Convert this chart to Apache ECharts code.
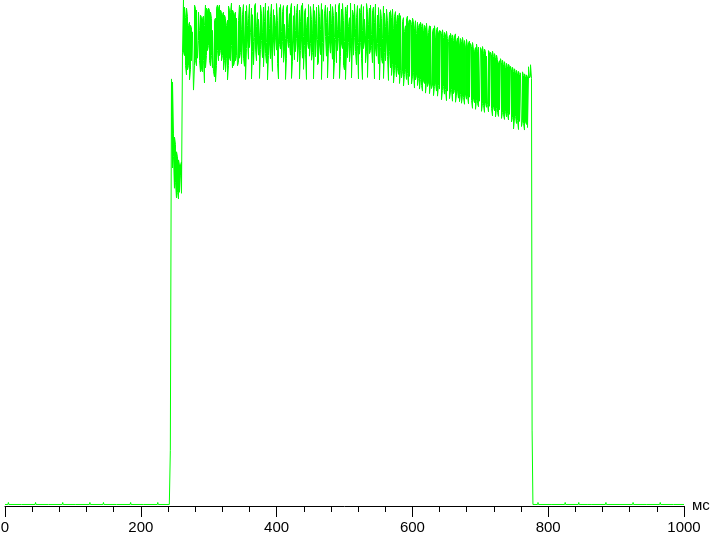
<!DOCTYPE html>
<html>
<head>
<meta charset="utf-8">
<script src="https://cdn.jsdelivr.net/npm/echarts@6/dist/echarts.min.js"></script>
<style>
html,body{margin:0;padding:0;background:#fff;}
#chart{width:711px;height:534px;}
</style>
</head>
<body>
<div id="chart"></div>
<script>
// ---- data (time in ms, brightness in % of max) ----
const xTickLabels = [0, 200, 400, 600, 800, 1000];
const baseLevel = 0.3;
const bumpPreMs = [5, 25, 45, 65, 85, 105, 125, 145, 165, 185, 205, 225];
const bumpPreVal = [0.7, 0.6, 0.7, 0.6, 0.7, 0.6, 0.7, 0.7, 0.6, 0.7, 0.6, 0.7];
const riseMs = [242, 243.5];
const riseVal = [0.3, 11];
const colStartMs = 245.2;     // first sample of the lit period
const colStepMs = 1.4728;     // sample interval
const peak = [
  84.4, 83.8, 73.7, 72.9, 71.5, 70.0, 69.0, 68.4, 67.4, 67.4, 68.0, 89.7,
  100, 98.6, 96.6, 98.4, 96.8, 95.0, 95.6, 95.0, 94.5, 93.7,
  93.7, 99.0, 98.4, 98.0, 98.0, 97.6, 94.0, 97.0, 96.6, 96.4,
  96.8, 95.0, 99.0, 98.4, 98.0, 98.4, 98.0, 97.6, 96.4, 94.0,
  94.0, 96.0, 96.4, 98.4, 99.0, 98.4, 99.0, 98.0, 97.6, 97.2,
  97.6, 97.0, 96.4, 95.0, 96.0, 98.8, 98.0, 97.6, 99.4, 98.0,
  97.6, 97.2, 97.6, 96.4, 96.4, 96.0, 99.0,
  98.6, 94.1, 97.2, 99.1, 92.3, 97.8, 98.9, 95.0, 96.4, 99.2,
  93.6, 98.4, 97.1, 91.8, 98.8, 99.3, 94.7, 97.5, 96.2, 92.9,
  99.0, 97.4, 93.5, 98.6, 95.8, 99.4, 91.6, 97.9, 98.7, 94.4,
  96.8, 99.2, 92.7, 98.1, 97.0, 94.9, 99.3, 96.0, 91.9, 98.5,
  99.1, 93.8, 97.7, 98.9, 95.2, 92.4, 98.4, 99.0, 94.6, 97.3,
  98.2, 99.3, 91.5, 96.9, 98.8, 94.0, 97.5, 99.2, 93.1, 98.0,
  95.7, 98.9, 99.4, 92.8, 97.6, 98.3, 94.5, 96.6, 99.1, 91.7,
  98.7, 96.1, 93.3, 99.2, 97.9, 95.4, 98.6, 92.2, 99.0, 96.8,
  94.2, 99.3, 98.1, 91.4, 97.4, 99.0, 95.6, 98.5, 93.0, 97.8,
  99.2, 95.3, 98.7, 96.9, 92.6, 99.1, 97.6, 94.1, 98.8, 99.4,
  93.7, 98.2, 99.3, 95.9, 91.8, 98.6, 97.3, 99.0, 94.8, 96.5,
  99.4, 92.5, 98.0, 97.1, 99.2, 94.3, 96.6, 98.9, 91.6, 98.3,
  97.5, 99.1, 94.0, 98.7, 96.2, 92.9, 99.3, 97.8, 95.1, 98.4,
  99.0, 93.2, 97.9, 98.6, 95.5, 99.2, 91.9, 97.0, 98.5, 94.6,
  98.1, 96.3, 92.4, 98.8, 97.4, 94.8, 98.2, 96.0, 93.1, 97.6,
  97.9, 96.5, 98.2, 94.3, 96.8, 97.7, 95.4, 97.0, 96.6, 97.4,
  96.9, 97.2, 95.8, 96.5, 93.8, 94.9, 96.3, 96.8, 95.6, 96.1,
  96.0, 95.2, 96.4, 95.7, 94.3, 95.9, 93.4, 95.6, 94.6, 95.3,
  95.6, 94.8, 95.3, 93.9, 95.0, 94.6, 95.4, 92.9, 93.6, 94.9,
  94.8, 95.1, 93.7, 94.4, 94.9, 92.5, 94.2, 94.6, 93.5, 94.0,
  93.9, 93.4, 94.1, 92.6, 93.6, 93.1, 93.8, 92.4, 91.8, 93.0,
  93.4, 92.6, 93.1, 92.0, 92.9, 93.3, 91.7, 92.5, 92.8, 91.1,
  92.4, 91.8, 92.6, 91.3, 92.0, 90.7, 92.2, 90.9, 91.5, 91.9,
  91.4, 90.8, 91.6, 90.3, 89.9, 90.6, 91.3, 89.9, 90.7, 91.0,
  90.6, 90.1, 90.8, 89.5, 90.3, 89.8, 88.9, 89.2, 90.0, 89.6,
  89.7, 89.2, 89.9, 88.8, 89.4, 88.6, 89.1, 88.2, 87.6, 88.0,
  88.4, 87.6, 88.1, 87.2, 87.8, 86.6, 87.5, 86.8, 87.3, 86.9,
  86.9, 86.2, 86.7, 85.9, 86.4, 85.6, 86.1, 85.4, 85.9, 85.3,
  85.6, 85.3, 85.8, 85.1, 85.4, 84.9, 85.2, 84.8, 86.8, 87.1, 87.2, 87.0
];
const trough = [
  77.0, 66.8, 69.0, 62.8, 64.0, 60.9, 62.0, 60.7, 62.0, 65.4, 61.8, 61.8,
  89.7, 89.0, 87.0, 85.2, 86.2, 87.0, 84.2, 86.2, 88.0, 87.7,
  82.2, 87.0, 88.0, 87.0, 88.5, 92.0, 88.0, 85.8, 86.2, 85.8,
  88.0, 83.6, 86.6, 89.0, 90.0, 91.0, 88.0, 87.0, 89.0, 86.6,
  85.8, 84.8, 83.8, 87.0, 90.0, 88.0, 89.0, 90.0, 88.0, 89.0,
  86.2, 88.0, 85.8, 88.5, 84.2, 87.0, 88.5, 88.0, 91.0, 86.6,
  87.0, 87.7, 88.0, 89.0, 87.0, 87.7, 88.5,
  89.6, 87.4, 91.7, 88.5, 86.9, 84.3, 90.4, 92.1, 88.3, 90.6,
  90.9, 84.4, 89.8, 87.2, 92.6, 90.3, 88.0, 91.5, 89.1, 84.5,
  90.2, 92.0, 88.6, 86.8, 91.1, 89.4, 87.5, 84.2, 89.0, 91.3,
  88.4, 90.5, 85.9, 91.9, 89.0, 92.5, 90.1, 87.4, 84.4, 91.2,
  90.3, 88.6, 91.8, 87.7, 89.9, 84.3, 88.5, 92.2, 90.6, 91.4,
  89.1, 84.5, 87.9, 91.9, 88.2, 89.8, 92.4, 87.8, 90.7, 84.4,
  90.0, 92.1, 88.5, 86.3, 91.0, 89.3, 84.3, 91.6, 90.4, 88.9,
  91.4, 88.1, 89.6, 84.4, 91.9, 88.8, 92.5, 87.2, 87.6, 91.1,
  89.2, 84.3, 91.6, 87.9, 88.2, 92.8, 88.9, 84.6, 90.5, 91.7,
  89.5, 91.7, 88.3, 84.4, 87.7, 92.2, 87.6, 90.0, 92.4, 84.5,
  88.8, 91.3, 90.4, 87.1, 86.2, 84.3, 89.7, 88.6, 91.6, 87.8,
  90.5, 84.6, 91.5, 89.1, 92.6, 89.8, 87.2, 91.0, 84.4, 89.3,
  91.6, 88.5, 84.3, 90.4, 91.7, 87.6, 89.9, 84.7, 92.2, 89.4,
  90.0, 91.0, 87.6, 92.3, 84.4, 90.3, 88.9, 91.4, 87.4, 84.2,
  90.6, 88.4, 87.5, 84.5, 89.6, 88.0, 91.7, 88.8, 84.1, 89.8,
  86.6, 85.1, 87.3, 83.6, 86.0, 87.1, 84.8, 86.4, 85.3, 83.5,
  86.0, 84.6, 85.8, 83.0, 85.3, 86.2, 84.3, 85.5, 83.2, 84.9,
  85.2, 83.4, 84.8, 85.6, 82.6, 84.2, 85.0, 83.1, 84.5, 82.4,
  84.3, 83.1, 82.0, 84.0, 83.5, 81.6, 83.8, 82.9, 83.6, 81.5,
  83.4, 82.5, 83.2, 81.1, 82.9, 83.6, 82.0, 81.0, 83.1, 82.4,
  82.6, 80.3, 82.1, 82.9, 81.4, 82.3, 80.1, 82.0, 81.7, 80.5,
  81.8, 82.3, 80.0, 81.5, 82.1, 79.8, 81.2, 82.0, 80.6, 79.9,
  81.3, 79.6, 81.0, 80.7, 79.4, 81.2, 80.4, 81.0, 79.5, 80.8,
  80.6, 80.1, 78.6, 80.4, 79.7, 78.4, 80.2, 79.5, 78.9, 80.0,
  79.8, 78.0, 79.5, 79.1, 77.8, 79.6, 78.8, 79.3, 77.9, 79.0,
  79.2, 78.5, 77.1, 78.8, 78.1, 76.9, 78.6, 77.8, 77.0, 78.3,
  78.2, 76.6, 77.8, 77.3, 76.4, 77.9, 76.9, 77.5, 76.3, 77.4,
  77.2, 75.9, 76.8, 74.5, 76.5, 77.0, 75.6, 76.2, 74.4, 76.0,
  76.3, 75.0, 76.1, 75.6, 74.3, 75.9, 75.4, 74.8, 84.8, 84.6, 85.0, 84.5
];
const fallMs = [776.3, 777.5];
const fallVal = [15, 0.3];
const bumpPostMs = [785, 805, 825, 845, 858, 865, 885, 905, 925, 945, 965, 985];
const bumpPostVal = [0.7, 0.6, 0.7, 0.7, 0.5, 0.6, 0.7, 0.6, 0.7, 0.6, 0.7, 0.6];
const endMs = 1000;

// ---- build series ----
const pts = [[0, baseLevel]];
function addBumps(ms, vals) {
  ms.forEach((t, i) => {
    pts.push([t - 0.7, baseLevel], [t, vals[i]], [t + 0.7, baseLevel]);
  });
}
addBumps(bumpPreMs, bumpPreVal);
riseMs.forEach((t, i) => pts.push([t, riseVal[i]]));
peak.forEach((p, i) => {
  const t = colStartMs + i * colStepMs;
  if (i % 2 === 0) pts.push([t, p], [t, trough[i]]);
  else pts.push([t, trough[i]], [t, p]);
});
fallMs.forEach((t, i) => pts.push([t, fallVal[i]]));
addBumps(bumpPostMs, bumpPostVal);
pts.push([endMs, baseLevel]);

const chart = echarts.init(document.getElementById('chart'), null, {renderer: 'canvas'});
chart.setOption({
  animation: false,
  backgroundColor: '#ffffff',
  grid: {left: 5, right: 27, top: 0, bottom: 28, containLabel: false, outerBoundsMode: 'none'},
  xAxis: {
    type: 'value',
    min: xTickLabels[0],
    max: xTickLabels[xTickLabels.length - 1],
    interval: 200,
    name: 'мс',
    nameLocation: 'end',
    nameGap: 8,
    nameTextStyle: {color: '#000', fontSize: 15, fontFamily: 'Arial, "Liberation Sans", sans-serif', verticalAlign: 'middle', padding: [3, 0, 0, 0]},
    axisLine: {show: true, onZero: false, lineStyle: {color: '#000', width: 1}},
    axisTick: {show: true, length: 11, lineStyle: {color: '#000', width: 1}},
    minorTick: {show: true, splitNumber: 5, length: 6, lineStyle: {color: '#000', width: 1}},
    splitLine: {show: false},
    minorSplitLine: {show: false},
    axisLabel: {color: '#000', fontSize: 15, margin: 14, fontFamily: 'Arial, "Liberation Sans", sans-serif', formatter: v => String(v)}
  },
  yAxis: {
    type: 'value',
    min: 0,
    max: 100,
    show: false,
    splitLine: {show: false}
  },
  series: [{
    type: 'line',
    data: pts,
    showSymbol: false,
    symbol: 'none',
    clip: true,
    lineStyle: {color: '#00ff00', width: 1},
    itemStyle: {color: '#00ff00'}
  }]
});
</script>
</body>
</html>
